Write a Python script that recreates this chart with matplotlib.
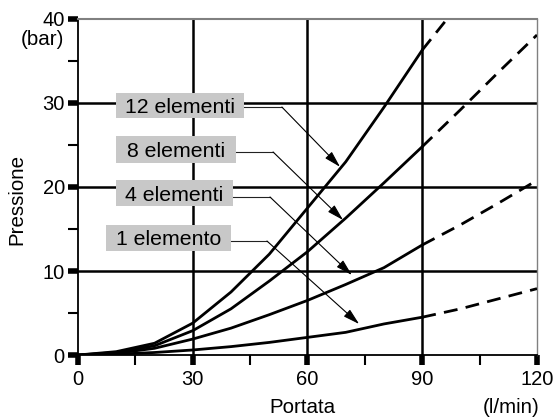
import matplotlib
matplotlib.use("Agg")
import matplotlib.pyplot as plt
from matplotlib.ticker import MultipleLocator
from matplotlib.patches import Rectangle

plt.rcParams['font.family'] = ['Liberation Sans', 'DejaVu Sans']

# Data
x_solid = [0, 10, 20, 30, 40, 50, 60, 70, 80, 90]
x_dash = [90, 100, 110, 120]

el12_solid = [0, 0.4, 1.4, 3.8, 7.5, 12.0, 17.5, 23.0, 29.5, 36.3]
el12_dash = [36.3, 42.0, 48.0, 54.0]
el8_solid = [0, 0.3, 1.1, 2.9, 5.5, 8.8, 12.3, 16.3, 20.5, 24.8]
el8_dash = [24.8, 29.2, 33.7, 38.1]
el4_solid = [0, 0.2, 0.8, 1.9, 3.2, 4.8, 6.5, 8.4, 10.4, 13.1]
el4_dash = [13.1, 15.5, 18.1, 20.8]
el1_solid = [0, 0.1, 0.3, 0.6, 1.0, 1.5, 2.1, 2.7, 3.7, 4.5]
el1_dash = [4.5, 5.5, 6.7, 7.9]

labels = ["12 elementi", "8 elementi", "4 elementi", "1 elemento"]
# label boxes (x0, x1, y0, y1), leader y, knee x, arrow tip
box_x0 = [9.9, 9.9, 9.9, 7.3]
box_x1 = [43.4, 41.3, 40.5, 40.0]
box_y0 = [28.21, 22.86, 17.74, 12.38]
box_y1 = [31.19, 26.07, 20.83, 15.48]
leader_y = [29.52, 24.17, 18.81, 13.57]
knee_x = [53.3, 51.0, 50.2, 49.4]
tip = [(68.5, 22.4), (69.3, 16.07), (71.6, 9.52), (73.5, 3.69)]

FS_TICK = 14.5
FS_LAB = 14.8
FS_BOX = 15.3

fig = plt.figure(figsize=(5.56, 4.19), dpi=100)
ax = fig.add_axes([0.1403, 0.1527, 0.8255, 0.802])
ax.set_xlim(0, 120)
ax.set_ylim(0, 40)

# grid
for gx in [30, 60, 90]:
    ax.axvline(gx, color='black', lw=1.8, zorder=1)
for gy in [10, 20, 30]:
    ax.axhline(gy, color='black', lw=1.8, zorder=1)

dash = (0, (5, 3))
for ys, yd in [(el12_solid, el12_dash), (el8_solid, el8_dash),
               (el4_solid, el4_dash), (el1_solid, el1_dash)]:
    ax.plot(x_solid, ys, color='black', lw=2.0, zorder=3, solid_joinstyle='round')
    ax.plot(x_dash, yd, color='black', lw=2.0, linestyle=dash, zorder=3)

for lab, x0, x1, y0, y1, lyy, kx, t in zip(labels, box_x0, box_x1, box_y0, box_y1,
                                           leader_y, knee_x, tip):
    ax.add_patch(Rectangle((x0, y0), x1 - x0, y1 - y0, fc='#c8c8c8', ec='none', zorder=6))
    ax.text((x0 + x1) / 2, (y0 + y1) / 2, lab, ha='center', va='center_baseline',
            fontsize=FS_BOX, zorder=7)
    ax.plot([x1, kx], [lyy, lyy], color='#222222', lw=0.8, zorder=4)
    ax.annotate('', xy=t, xytext=(kx, lyy),
                arrowprops=dict(arrowstyle='-|>,head_length=1.0,head_width=0.28',
                                color='black', lw=0.8, shrinkA=0, shrinkB=0),
                zorder=5)

# spines
ax.spines['top'].set_color('#808080')
ax.spines['top'].set_linewidth(1.5)
ax.spines['right'].set_color('#808080')
ax.spines['right'].set_linewidth(1.0)
ax.spines['left'].set_linewidth(1.3)
ax.spines['bottom'].set_linewidth(1.3)

ax.xaxis.set_major_locator(MultipleLocator(30))
ax.xaxis.set_minor_locator(MultipleLocator(15))
ax.yaxis.set_major_locator(MultipleLocator(10))
ax.yaxis.set_minor_locator(MultipleLocator(5))
ax.tick_params(which='major', direction='out', length=7.5, width=4, labelsize=FS_TICK)
ax.tick_params(which='minor', direction='out', length=7.5, width=1.5)
ax.tick_params(axis='y', which='major', pad=2)
ax.tick_params(axis='x', which='major', pad=3)

ax.text(-0.03, 0.94, '(bar)', transform=ax.transAxes, ha='right', va='center', fontsize=FS_LAB)
ax.text(0.943, -0.172, '(l/min)', transform=ax.transAxes, ha='center', va='baseline', fontsize=FS_LAB)
ax.text(0.489, -0.172, 'Portata', transform=ax.transAxes, ha='center', va='baseline', fontsize=FS_LAB)
ax.text(-0.134, 0.462, 'Pressione', transform=ax.transAxes, ha='center', va='center',
        rotation=90, fontsize=FS_LAB)

fig.savefig('out.png', dpi=100)
